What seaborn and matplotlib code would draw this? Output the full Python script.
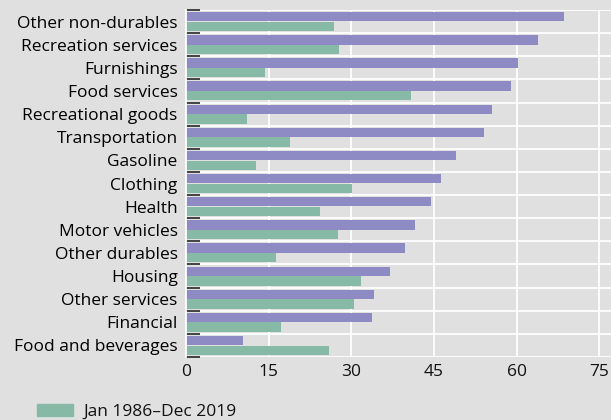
import matplotlib
matplotlib.use("Agg")
import matplotlib.pyplot as plt
import matplotlib.patches as mpatches
import seaborn as sns
import pandas as pd

# categorias (de cima para baixo)
categorias = ["Other non-durables", "Recreation services", "Furnishings", "Food services",
              "Recreational goods", "Transportation", "Gasoline", "Clothing", "Health",
              "Motor vehicles", "Other durables", "Housing", "Other services", "Financial",
              "Food and beverages"]

# serie roxa (periodo recente, legenda cortada na imagem)
valores_recentes = [68.6, 63.9, 60.3, 59.0, 55.5, 54.1, 49.0, 46.3, 44.5, 41.6,
                    39.7, 37.0, 34.1, 33.8, 10.3]
# serie verde
valores_historicos = [26.9, 27.8, 14.3, 40.8, 11.1, 18.9, 12.7, 30.1, 24.3, 27.6,
                      16.3, 31.8, 30.5, 17.2, 26.0]

rotulo_recente = "recent"
rotulo_historico = "Jan 1986\u2013Dec 2019"
ticks_x = [0, 15, 30, 45, 60, 75]

cor_roxa = "#8e8ac3"
cor_verde = "#86b9a6"
fundo = "#e0e0e0"

df = pd.DataFrame({
    "categoria": categorias * 2,
    "periodo": [rotulo_recente] * len(categorias) + [rotulo_historico] * len(categorias),
    "valor": valores_recentes + valores_historicos,
})

sns.set_theme(style="darkgrid")
plt.rcParams["font.family"] = ["Open Sans", "DejaVu Sans"]

fig = plt.figure(figsize=(6.11, 4.2), dpi=100, facecolor=fundo)
ax = fig.add_axes([186 / 611, 0.15, 1 - 186 / 611, 1 - 10 / 420 - 0.15])
ax.set_facecolor(fundo)

sns.barplot(data=df, y="categoria", x="valor", hue="periodo",
            hue_order=[rotulo_recente, rotulo_historico], order=categorias,
            palette=[cor_roxa, cor_verde], saturation=1, width=0.84, gap=0.04,
            linewidth=0, legend=False, ax=ax)

ax.set_xlim(0, 77.1)
ax.set_ylim(len(categorias) - 0.5, -0.5)
ax.set_xticks(ticks_x)
ax.set_xlabel("")
ax.set_ylabel("")

# grade branca: vertical nos ticks, horizontal entre grupos
ax.grid(False)
ax.xaxis.grid(True, color="white", linewidth=1.3)
ax.set_yticks([i - 0.5 for i in range(len(categorias) + 1)], minor=True)
ax.yaxis.grid(True, which="minor", color="white", linewidth=1.3)
ax.set_axisbelow(True)

for lado in ["top", "right", "bottom"]:
    ax.spines[lado].set_visible(False)
ax.spines["left"].set_color("white")
ax.spines["left"].set_linewidth(1.3)

ax.tick_params(axis="x", length=0, labelsize=12.5, pad=5, colors="#111111")
ax.tick_params(axis="y", which="major", length=0, labelsize=12.5, pad=6, colors="#000000")
ax.tick_params(axis="y", which="minor", left=True, direction="in", length=10, width=1.3,
               color="#333333")

ticks_menores = ax.yaxis.get_minor_ticks()
ticks_menores[0].tick1line.set_color("#9a9a9a")
ticks_menores[-1].tick1line.set_color("#c4c4c4")

# legenda (so a entrada visivel)
patch = mpatches.Patch(color=cor_verde, label=rotulo_historico)
fig.legend(handles=[patch], loc="upper left", bbox_to_anchor=(0.049, 0.055),
           frameon=False, fontsize=12.5, handlelength=2.1, handleheight=0.7,
           handletextpad=0.55, borderaxespad=0, labelcolor="#111111")

plt.savefig("out.png", dpi=100, facecolor=fundo)
